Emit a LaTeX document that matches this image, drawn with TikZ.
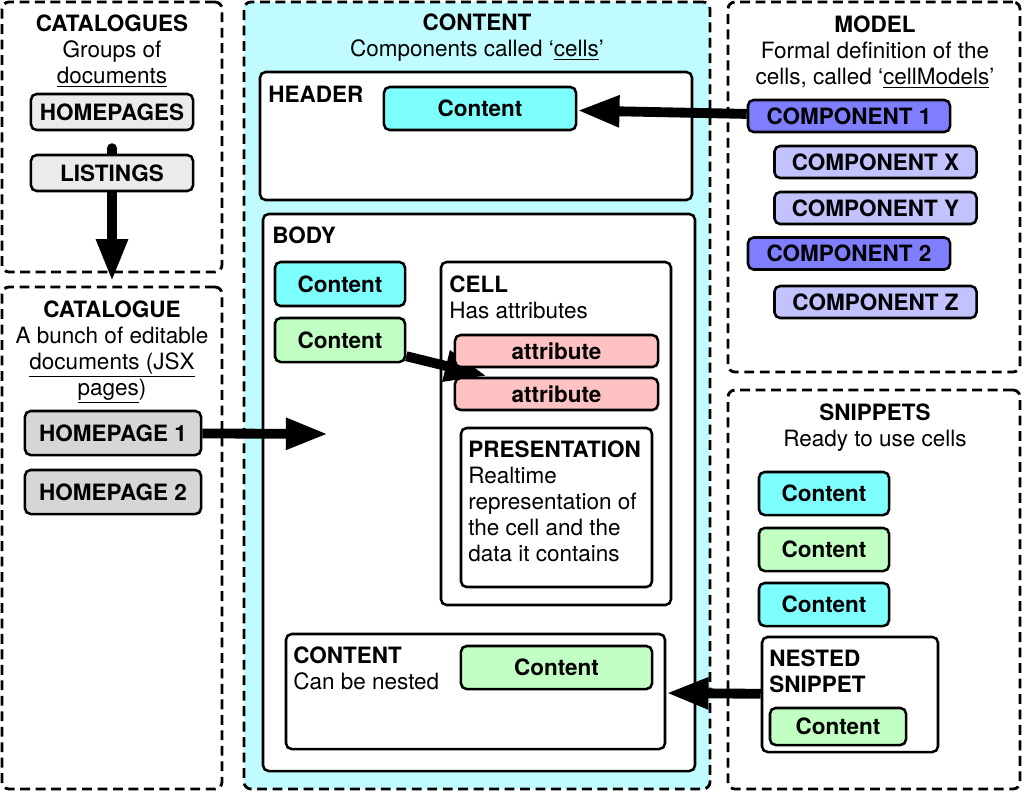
\documentclass[tikz,border=0pt]{standalone}
\usepackage{fontspec}
\setmainfont{TeX Gyre Heros}
\usetikzlibrary{arrows.meta,fit,positioning}

\definecolor{zonecyan}{RGB}{192,252,255}
\definecolor{cellcyan}{RGB}{125,255,255}
\definecolor{cellgreen}{RGB}{194,255,194}
\definecolor{attrpink}{RGB}{255,194,194}
\definecolor{graylight}{RGB}{235,235,235}
\definecolor{graymid}{RGB}{214,214,214}
\definecolor{compdark}{RGB}{126,126,255}
\definecolor{complight}{RGB}{194,194,255}

\newcommand{\diagfont}{\fontsize{16}{18.4}\selectfont}

\begin{document}
\begin{tikzpicture}
[x=0.025cm,y=-0.025cm,
  every node/.append style={font=\diagfont},
  zonebox/.style={draw,line width=2pt,dash pattern=on 7pt off 4pt,rounded corners=5pt,inner sep=0pt},
  framebox/.style={draw,fill=white,line width=1.8pt,rounded corners=4pt,inner sep=0pt},
  tagbox/.style={draw,line width=1.8pt,rounded corners=4pt,inner sep=0pt,font=\diagfont\bfseries},
  headingtext/.style={align=center,inner sep=0pt,anchor=north},
  cornertext/.style={align=left,inner sep=0pt,anchor=north west},
  bigarrow/.style={line width=7pt,-{Triangle[length=30pt,width=21pt]}}]
\useasboundingbox (0,0) rectangle (1024,791);
%% dashed zones
\node[zonebox, fit={(2,2) (222,272)}] (catalogues) {};
\node[zonebox, fit={(2,287) (222,789)}] (catalogue) {};
\node[zonebox, fill=zonecyan, fit={(244,2) (710,789)}] (content) {};
\node[zonebox, fit={(728,2) (1020,372)}] (model) {};
\node[zonebox, fit={(728,390) (1020,789)}] (snippets) {};
%% zone headings
\node[headingtext] (cataloguesTitle) at (112,15) {\textbf{CATALOGUES}\\Groups of\\\underline{documents}};
\node[headingtext] (catalogueTitle) at (112,301) {\textbf{CATALOGUE}\\A bunch of editable\\\underline{documents (JSX}\\\underline{pages})};
\node[headingtext] (contentTitle) at (477,14) {\textbf{CONTENT}\\Components called ‘\underline{cells}’};
\node[headingtext] (modelTitle) at (875,16) {\textbf{MODEL}\\Formal definition of the\\cells, called ‘\underline{cellModels}’};
\node[headingtext] (snippetsTitle) at (875,404) {\textbf{SNIPPETS}\\Ready to use cells};
%% catalogues
\node[tagbox, fill=graylight, minimum width=4.05cm, minimum height=0.9cm] (homepages) at (112,112) {HOMEPAGES};
\draw[bigarrow, line cap=round, shorten <=12pt, shorten >=3pt] (homepages) -- (catalogue.north);
\node[tagbox, fill=graylight, minimum width=4.05cm, minimum height=0.9cm] (listings) at (112,173) {LISTINGS};
\foreach \name/\y/\txt in {homepage1/433/HOMEPAGE 1, homepage2/492/HOMEPAGE 2}
{
  \node[tagbox, fill=graymid, minimum width=4.4cm, minimum height=1.1cm] (\name) at (113,\y) {\txt};
}
%% header
\node[framebox, fit={(260,72) (692,200)}] (header) {};
\node[cornertext] (headerLabel) at (268,86) {\textbf{HEADER}};
\node[tagbox, fill=cellcyan, minimum width=4.8cm, minimum height=1.075cm] (headContent) at (480,108.5) {Content};
%% body
\node[framebox, fit={(263,214) (695,771)}] (body) {};
\node[cornertext] (bodyLabel) at (272,227) {\textbf{BODY}};
\node[tagbox, fill=cellcyan, minimum width=3.25cm, minimum height=1.1cm] (bodyContent1) at (340,284) {Content};
\node[tagbox, fill=cellgreen, minimum width=3.25cm, minimum height=1.1cm] (bodyContent2) at (340,340) {Content};
\node[framebox, fit={(441,262) (671,605)}] (cell) {};
\node[cornertext] (cellLabel) at (449,276) {\textbf{CELL}\\Has attributes};
\coordinate (cellIn) at (487,376);
\draw[bigarrow] (bodyContent2) -- (cellIn);
\foreach \name/\y in {attribute1/351, attribute2/394}
{
  \node[tagbox, fill=attrpink, minimum width=5.075cm, minimum height=0.8cm] (\name) at (556.5,\y) {attribute};
}
\node[framebox, fit={(461,428) (652,587)}] (presentation) {};
\node[cornertext] (presentationLabel) at (468,441) {\textbf{PRESENTATION}\\Realtime\\representation of\\the cell and the\\data it contains};
\node[framebox, fit={(286,634) (665,749)}] (nested) {};
\node[cornertext] (nestedLabel) at (293,647) {\textbf{CONTENT}\\Can be nested};
\node[tagbox, fill=cellgreen, minimum width=4.775cm, minimum height=1.075cm] (nestedContent) at (556.5,667.5) {Content};
\coordinate (bodyIn) at (328,434);
\draw[bigarrow] (homepage1) -- (bodyIn);
%% model
\foreach \name/\x/\y/\shade/\txt in {comp1/849/116/compdark/COMPONENT 1,
  compX/875.5/162/complight/COMPONENT X, compY/875.5/208/complight/COMPONENT Y,
  comp2/849/253.5/compdark/COMPONENT 2, compZ/875.5/302/complight/COMPONENT Z}
{
  \node[tagbox, fill=\shade, minimum width=5.05cm, minimum height=0.8cm] (\name) at (\x,\y) {\txt};
}
\draw[bigarrow] (comp1) -- (headContent);
%% snippets
\foreach \name/\y/\shade in {snippet1/493.5/cellcyan, snippet2/549.5/cellgreen, snippet3/604.5/cellcyan}
{
  \node[tagbox, fill=\shade, minimum width=3.25cm, minimum height=1.075cm] (\name) at (824,\y) {Content};
}
\node[framebox, fit={(762,637) (938,752)}] (nestedSnippet) {};
\node[cornertext] (nestedSnippetLabel) at (769,650) {\textbf{NESTED}\\\textbf{SNIPPET}};
\node[tagbox, fill=cellgreen, minimum width=3.4cm, minimum height=0.925cm] (nestedSnippetContent) at (838,726.5) {Content};
\draw[bigarrow] (nestedSnippet) -- (nested);
\end{tikzpicture}
\end{document}
